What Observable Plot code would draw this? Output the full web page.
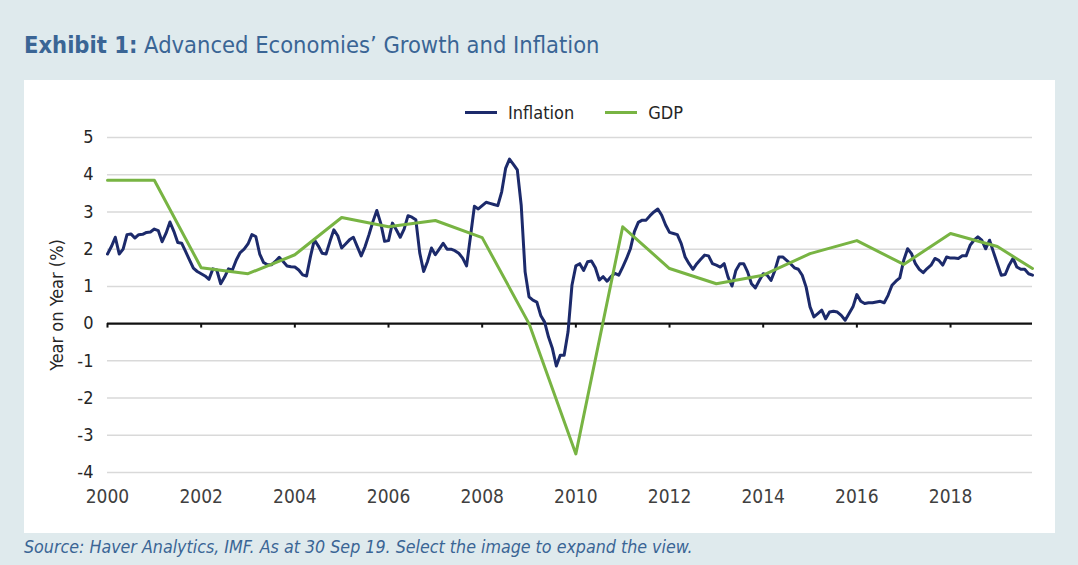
<!DOCTYPE html>
<html><head><meta charset="utf-8">
<script src="https://cdn.jsdelivr.net/npm/d3@7"></script>
<script src="https://cdn.jsdelivr.net/npm/@observablehq/plot@0.6"></script>
<style>
body{margin:0;background:#dfeaed;width:1078px;height:565px;overflow:hidden;position:relative;font-family:"Liberation Sans Narrow","DejaVu Sans Condensed","Roboto Condensed",sans-serif;}
#title{position:absolute;left:24px;top:31px;font-size:23.5px;color:#3a6595;white-space:nowrap;}
#title b{font-weight:bold;}
#panel{position:absolute;left:24px;top:80px;width:1031px;height:453px;background:#fff;}
#legend{position:absolute;left:441px;top:22px;display:flex;align-items:center;font-size:18px;color:#262626;}
.sw{width:32px;height:3px;margin-right:11px;}
#source{position:absolute;left:24px;top:537px;font-style:italic;font-size:17.7px;color:#3a6595;white-space:nowrap;}
</style></head>
<body>
<div id="title"><b>Exhibit 1:</b> Advanced Economies’ Growth and Inflation</div>
<div id="panel">
  <div id="chart"></div>
  <div id="legend">
    <div class="sw" style="background:#1c2a6b"></div><span style="margin-right:31px">Inflation</span>
    <div class="sw" style="background:#78b443"></div><span>GDP</span>
  </div>
</div>
<div id="source">Source: Haver Analytics, IMF. As at 30 Sep 19. Select the image to expand the view.</div>
<script>
// Inflation, monthly from Jan 2000 (% y/y)
const inflationStartYear = 2000;
const inflation = [
1.87,2.07,2.32,1.87,2.0,2.39,2.41,2.3,2.39,2.4,2.45,2.46,
2.54,2.5,2.2,2.43,2.73,2.48,2.18,2.16,1.94,1.71,1.49,1.4,
1.34,1.28,1.19,1.47,1.44,1.07,1.25,1.47,1.44,1.71,1.91,2.0,
2.14,2.39,2.34,1.87,1.64,1.58,1.58,1.67,1.78,1.67,1.55,1.53,
1.52,1.44,1.31,1.28,1.8,2.25,2.09,1.89,1.87,2.21,2.52,2.36,
2.03,2.14,2.25,2.32,2.07,1.82,2.07,2.39,2.74,3.04,2.7,2.21,
2.23,2.7,2.52,2.32,2.54,2.9,2.86,2.79,1.9,1.4,1.67,2.03,
1.85,2.0,2.16,2.0,2.0,1.96,1.89,1.76,1.55,2.34,3.15,3.08,
3.17,3.26,3.23,3.2,3.17,3.54,4.17,4.42,4.28,4.13,3.18,1.39,
0.72,0.63,0.58,0.22,0.04,-0.36,-0.67,-1.14,-0.85,-0.85,-0.22,1.03,
1.55,1.61,1.43,1.66,1.68,1.5,1.17,1.26,1.14,1.26,1.35,1.3,
1.52,1.75,2.02,2.47,2.72,2.78,2.78,2.9,3.0,3.08,2.91,2.65,
2.45,2.42,2.39,2.15,1.79,1.61,1.46,1.61,1.73,1.84,1.82,1.61,
1.57,1.52,1.61,1.25,1.01,1.43,1.61,1.61,1.39,1.07,0.96,1.16,
1.34,1.3,1.16,1.43,1.79,1.79,1.7,1.61,1.5,1.46,1.3,0.98,
0.45,0.18,0.27,0.36,0.13,0.31,0.33,0.31,0.22,0.09,0.27,0.45,
0.78,0.6,0.54,0.56,0.56,0.58,0.6,0.56,0.76,1.03,1.14,1.23,
1.7,2.01,1.88,1.61,1.46,1.37,1.48,1.57,1.75,1.7,1.57,1.79,
1.76,1.76,1.75,1.82,1.82,2.1,2.24,2.33,2.24,2.01,2.24,1.92,
1.61,1.3,1.32,1.57,1.75,1.52,1.46,1.46,1.34,1.3
];
// GDP growth, annual points
const gdpYears  = [2000,2001,2002,2003,2004,2005,2006,2007,2008,2009,2010,2011,2012,2013,2014,2015,2016,2017,2018,2019,2019.75];
const gdpValues = [3.85,3.85,1.5,1.34,1.85,2.85,2.6,2.77,2.31,0.0,-3.5,2.6,1.48,1.07,1.3,1.88,2.23,1.59,2.42,2.07,1.48];
// Axis ticks
const xTicks = [2000,2002,2004,2006,2008,2010,2012,2014,2016,2018];
const yTicks = [-4,-3,-2,-1,0,1,2,3,4,5];

const inflData = inflation.map((v,i)=>({t: inflationStartYear + i/12, v}));
const gdpData = gdpYears.map((t,i)=>({t, v: gdpValues[i]}));
const font = '"Liberation Sans Narrow","DejaVu Sans Condensed","Roboto Condensed",sans-serif';

const chart = Plot.plot({
  width: 1031, height: 453,
  marginLeft: 83, marginRight: 23, marginTop: 57, marginBottom: 61,
  x: {domain: [2000, 2019.75]},
  y: {domain: [-4, 5]},
  style: {fontFamily: font, fontSize: "19px", color: "#404040", background: "transparent", overflow: "visible"},
  marks: [
    Plot.ruleY(yTicks.filter(d => d !== 0), {stroke: "#d9d9d9", strokeWidth: 1.5}),
    Plot.axisY({ticks: yTicks, tickSize: 0, tickPadding: 14, tickFormat: d => String(d).replace("−","-"), label: "Year on Year (%)", labelAnchor: "center", labelArrow: "none", labelOffset: 57, fill: "#262626", fontSize: 18}),
    Plot.axisX({ticks: xTicks, tickSize: 0, tickPadding: 17, tickFormat: d => String(d), label: null}),
    Plot.ruleY([0], {stroke: "#111", strokeWidth: 2.2}),
    Plot.ruleX(xTicks, {y1: 0, y2: -0.12, stroke: "#111", strokeWidth: 2}),
    Plot.line(inflData, {x: "t", y: "v", stroke: "#1c2a6b", strokeWidth: 3, curve: "linear"}),
    Plot.line(gdpData, {x: "t", y: "v", stroke: "#78b443", strokeWidth: 3, curve: "linear"})
  ]
});
document.getElementById("chart").appendChild(chart);
</script>
</body></html>
